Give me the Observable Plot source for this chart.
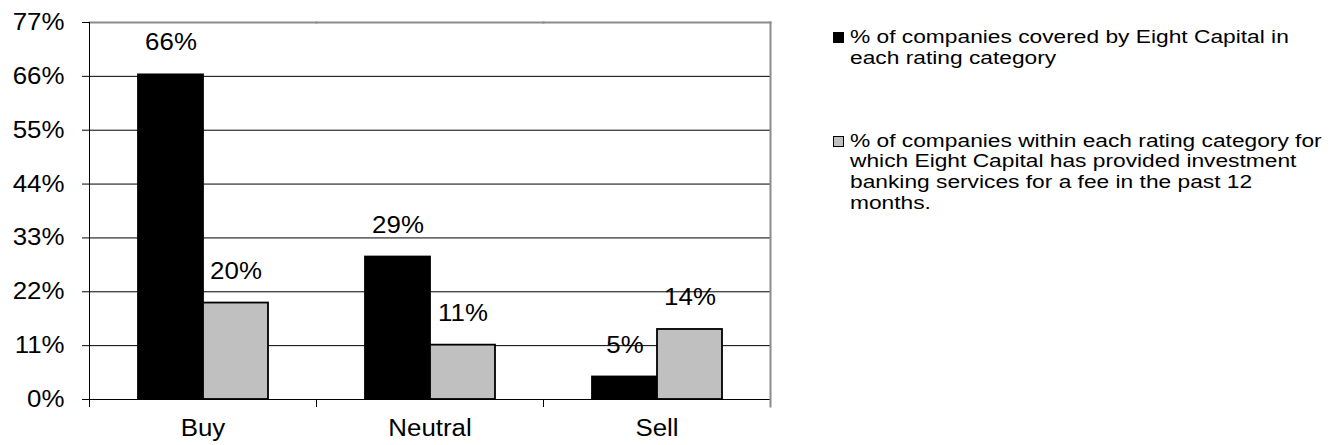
<!DOCTYPE html>
<html>
<head>
<meta charset="utf-8">
<script src="https://cdn.jsdelivr.net/npm/d3@7"></script>
<script src="https://cdn.jsdelivr.net/npm/@observablehq/plot@0.6"></script>
<style>
  html, body { margin: 0; padding: 0; background: #fff; }
  #wrap { position: relative; width: 1332px; height: 445px; font-family: "Liberation Sans", Arial, sans-serif; color: #000; }
  #chart { position: absolute; left: 0; top: 0; }
  #legend { position: absolute; left: 833px; top: 27px; }
  .item { position: relative; padding-left: 17px; }
  .item + .item { margin-top: 62px; }
  .txt { font-size: 17.5px; line-height: 20.8px; transform: scaleX(1.3); transform-origin: left top; white-space: nowrap; }
  .sw { position: absolute; left: 0; top: 5px; width: 9px; height: 9px; border: 1px solid #000; }
</style>
</head>
<body>
<div id="wrap">
  <div id="chart"></div>
  <div id="legend"></div>
</div>
<script>
// ---- data ----
const categories = ["Buy", "Neutral", "Sell"];
const seriesKeys = ["covered", "banking"];
const seriesLabels = [
  "% of companies covered by Eight Capital in each rating category",
  "% of companies within each rating category for which Eight Capital has provided investment banking services for a fee in the past 12 months."
];
const legendLines = [
  ["% of companies covered by Eight Capital in", "each rating category"],
  ["% of companies within each rating category for", "which Eight Capital has provided investment", "banking services for a fee in the past 12", "months."]
];
const coveredPct = [66.3, 29.1, 4.6];
const bankingPct = [19.7, 11.1, 14.3];
const yTicks = [0, 11, 22, 33, 44, 55, 66, 77];
const seriesColors = ["#000000", "#c0c0c0"];

// ---- build table ----
const rows = [];
categories.forEach((c, i) => {
  rows.push({category: c, series: seriesKeys[0], value: coveredPct[i]});
  rows.push({category: c, series: seriesKeys[1], value: bankingPct[i]});
});

const W = 790, H = 445, mT = 22, mB = 46, mL = 88, mR = 19;
const plotH = H - mT - mB;
const FS = 23.5;

const chart = Plot.plot({
  width: W, height: H,
  marginTop: mT, marginBottom: mB, marginLeft: mL, marginRight: mR,
  style: {fontFamily: "'Liberation Sans', Arial, sans-serif", color: "#000", background: "#fff"},
  fx: {domain: categories, padding: 0, label: null},
  x: {domain: seriesKeys, paddingInner: 0, paddingOuter: 0.74, axis: null},
  y: {domain: [0, 77], label: null},
  color: {domain: seriesKeys, range: seriesColors},
  marks: [
    Plot.ruleY(yTicks.filter(t => t < 77), {y: d => d, stroke: "#000", strokeWidth: 1}),
    Plot.frame({anchor: "top", stroke: "#8c8c8c", strokeWidth: 2}),
    Plot.frame({anchor: "right", fx: categories[categories.length - 1], stroke: "#8c8c8c", strokeWidth: 2, insetBottom: -7}),
    Plot.frame({anchor: "left", stroke: "#000", strokeWidth: 1, insetTop: plotH, insetBottom: -7}),
    Plot.frame({anchor: "left", fx: categories[0], stroke: "#000", strokeWidth: 1, insetBottom: -7}),
    Plot.barY(rows, {fx: "category", x: "series", y: "value", fill: "series", stroke: "#000", strokeWidth: 1.8}),
    Plot.text(rows, {fx: "category", x: "series", y: "value", text: d => Math.round(d.value) + "%", dy: -32, fontSize: FS, fill: "#000"}),
    Plot.axisY({ticks: yTicks, tickFormat: d => d + "%", tickSize: 7, tickPadding: 18, fontSize: FS, label: null}),
    Plot.axisFx({anchor: "bottom", tickSize: 0, tickPadding: 20, fontSize: FS, label: null})
  ]
});
document.getElementById("chart").appendChild(chart);

// widen the glyphs slightly, as in the reference
d3.select(chart).selectAll("text").each(function () {
  const w = this.getComputedTextLength();
  if (w > 0) {
    this.setAttribute("textLength", (w * 1.1).toFixed(1));
    this.setAttribute("lengthAdjust", "spacingAndGlyphs");
  }
});

// ---- legend ----
const legend = d3.select("#legend");
legendLines.forEach((lines, i) => {
  const item = legend.append("div").attr("class", "item").attr("title", seriesLabels[i]);
  item.append("div").attr("class", "sw").style("background", seriesColors[i]);
  const t = item.append("div").attr("class", "txt");
  lines.forEach((l, j) => {
    if (j) t.append("br");
    t.append("span").text(l);
  });
});
</script>
</body>
</html>
